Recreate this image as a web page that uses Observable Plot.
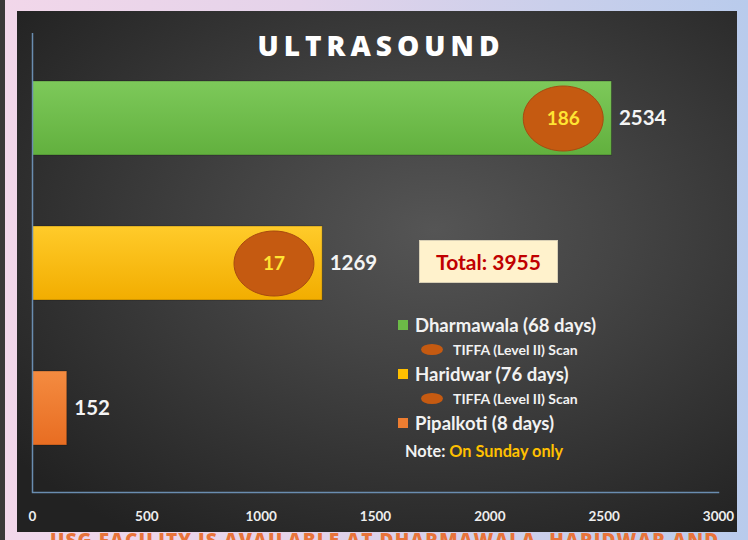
<!DOCTYPE html>
<html>
<head>
<meta charset="utf-8">
<script src="https://cdn.jsdelivr.net/npm/d3@7"></script>
<script src="https://cdn.jsdelivr.net/npm/@observablehq/plot@0.6"></script>
<style>
  html, body { margin: 0; padding: 0; }
  body { width: 748px; height: 540px; overflow: hidden; position: relative;
         background: linear-gradient(90deg, #f2d7ea 0%, #e4d3ea 40%, #c9cfeb 75%, #b9cbec 100%);
         font-family: Lato, "Open Sans", sans-serif; }
  #leftstrip { position: absolute; left: 0; top: 0; width: 5px; height: 540px; background: #3a3838; }
  #panel { position: absolute; left: 17px; top: 11px; width: 720px; height: 521px;
           background: radial-gradient(ellipse 75% 70% at 58% 42%, #555555 0%, #444444 35%, #2f2f2f 75%, #222222 100%); }
  #bottomnote { position: absolute; left: 50px; top: 531px; font: 800 19px/1 "Open Sans", sans-serif;
                color: #e8743b; letter-spacing: 1.1px; white-space: nowrap; }
  #title { position: absolute; left: 0; width: 762px; top: 26px; text-align: center;
           font: 900 28px "Open Sans", Lato, sans-serif; color: #ffffff; letter-spacing: 5px; }
  #chart { position: absolute; left: 0; top: 0; }
  #total { position: absolute; left: 419px; top: 240px; width: 139px; height: 43px; box-sizing: border-box;
           background: #fff2cc; border: 1px solid #d8cfb5; color: #c00000; font: bold 21px Lato, sans-serif;
           display: flex; align-items: center; justify-content: center; }
  #legend { position: absolute; left: 398px; top: 313px; color: #f2f2f2; font-weight: bold; }
  .li { position: relative; height: 24.5px; display: flex; align-items: center; white-space: nowrap; }
  .main { font-size: 18.5px; }
  .sub { font-size: 14px; padding-left: 23px; height: 24.5px; }
  .sw { width: 10px; height: 10px; margin-right: 7px; display: inline-block; }
  .ell { width: 22px; height: 11px; border-radius: 50%; background: #c55a11; margin-right: 10px; display: inline-block; }
  .note { font-size: 16.3px; padding-left: 7px; margin-top: 3px; }
</style>
</head>
<body>
<div id="leftstrip"></div>
<div id="bottomnote">USG FACILITY IS AVAILABLE AT DHARMAWALA, HARIDWAR AND</div>
<div id="panel"></div>
<div id="chart"></div>
<div id="title">ULTRASOUND</div>
<div id="total"></div>
<div id="legend"></div>
<script>
// ---- data ----
const sites = ["Dharmawala", "Haridwar", "Pipalkoti"];
const scans = [2534, 1269, 152];
const tiffaScans = [186, 17, null];
const daysOpen = [68, 76, 8];
const xTicks = [0, 500, 1000, 1500, 2000, 2500, 3000];
const tiffaLabel = "TIFFA (Level II) Scan";
const noteLabel = "Note:";
const noteText = "On Sunday only";

// ---- styles ----
const gradIds = ["gGreen", "gYellow", "gOrange"];
const swatch = ["#6cbb47", "#ffc000", "#ed7d31"];

const data = sites.map((s, i) => ({site: s, value: scans[i], tiffa: tiffaScans[i], grad: `url(#${gradIds[i]})`}));
const tiffaData = data.filter(d => d.tiffa != null);
const tiffaOffset = 213; // ellipse sits just inside the bar end

// ellipse symbol for the TIFFA markers
const ellipseSymbol = {
  draw(ctx, size) {
    const r = Math.sqrt(size / Math.PI);
    const rx = r * 1.23, ry = r, k = 0.5523;
    ctx.moveTo(rx, 0);
    ctx.bezierCurveTo(rx, ry * k, rx * k, ry, 0, ry);
    ctx.bezierCurveTo(-rx * k, ry, -rx, ry * k, -rx, 0);
    ctx.bezierCurveTo(-rx, -ry * k, -rx * k, -ry, 0, -ry);
    ctx.bezierCurveTo(rx * k, -ry, rx, -ry * k, rx, 0);
    ctx.closePath();
  }
};

const chart = Plot.plot({
  width: 748,
  height: 540,
  marginLeft: 32,
  marginRight: 30,
  marginTop: 33,
  marginBottom: 48,
  style: {background: "transparent", color: "#eeeeee", fontFamily: "Lato, 'Open Sans', sans-serif", fontSize: "13.5px", fontWeight: "bold"},
  x: {domain: [0, 3000], ticks: xTicks, tickSize: 0, tickPadding: 19, label: null, tickFormat: d => String(d)},
  y: {domain: sites, type: "band", paddingInner: 0.49, paddingOuter: 0.323, axis: null},
  color: {type: "identity"},
  marks: [
    Plot.barX(data, {x: "value", y: "site", fill: "grad", stroke: "rgba(0,0,0,0.25)", strokeWidth: 1}),
    Plot.dot(tiffaData, {x: d => d.value - tiffaOffset, y: "site", r: 32.5, symbol: ellipseSymbol,
      fill: "#c55a11", stroke: "#a84a10", strokeWidth: 1}),
    Plot.text(tiffaData, {x: d => d.value - tiffaOffset, y: "site", text: d => String(d.tiffa),
      fill: "#ffe433", fontSize: 19, fontWeight: "bold"}),
    Plot.text(data, {x: "value", y: "site", text: d => String(d.value), dx: 7, textAnchor: "start",
      fill: "#f4f4f4", fontSize: 20.5, fontWeight: "bold"}),
    Plot.ruleX([0], {stroke: "#6a8db0", strokeWidth: 1.5}),
    Plot.frame({anchor: "bottom", stroke: "#6a8db0", strokeWidth: 1.5})
  ]
});

// gradient defs
const defs = d3.select(chart).insert("defs", ":first-child");
const grads = [
  ["gGreen", "#7dc95a", "#62b03e"],
  ["gYellow", "#ffcb2a", "#f2ad00"],
  ["gOrange", "#f48b40", "#e86d22"]
];
for (const [id, c0, c1] of grads) {
  const g = defs.append("linearGradient").attr("id", id).attr("x1", 0).attr("y1", 0).attr("x2", 0).attr("y2", 1);
  g.append("stop").attr("offset", "0%").attr("stop-color", c0);
  g.append("stop").attr("offset", "100%").attr("stop-color", c1);
}
document.getElementById("chart").appendChild(chart);

// total box
document.getElementById("total").textContent = "Total: " + d3.sum(scans);

// legend
const leg = document.getElementById("legend");
sites.forEach((s, i) => {
  const row = document.createElement("div");
  row.className = "li main";
  row.innerHTML = `<span class="sw" style="background:${swatch[i]}"></span>${s} (${daysOpen[i]} days)`;
  leg.appendChild(row);
  if (tiffaScans[i] != null) {
    const sub = document.createElement("div");
    sub.className = "li sub";
    sub.innerHTML = `<span class="ell"></span>${tiffaLabel}`;
    leg.appendChild(sub);
  }
});
const note = document.createElement("div");
note.className = "li note";
note.innerHTML = `${noteLabel}&nbsp;<span style="color:#ffc000">${noteText}</span>`;
leg.appendChild(note);
</script>
</body>
</html>
